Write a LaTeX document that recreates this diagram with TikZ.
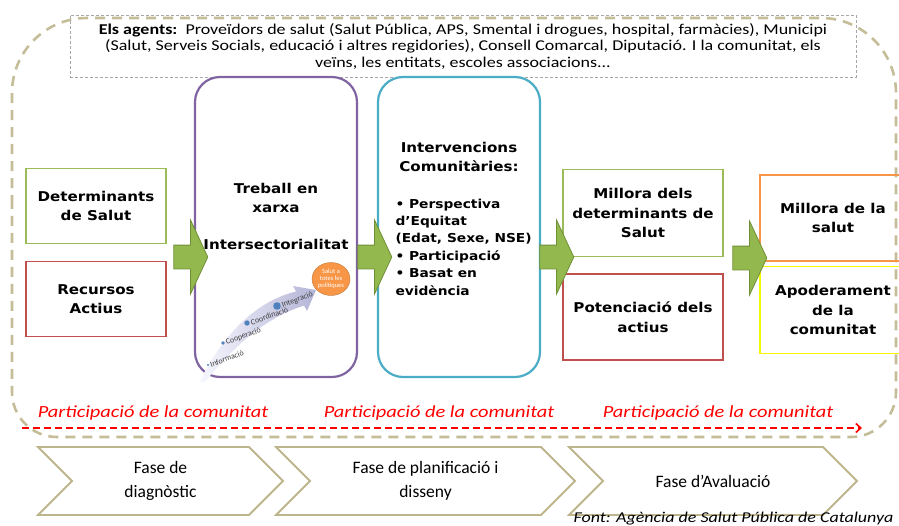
\documentclass[tikz,border=0pt]{standalone}
\usepackage{fontspec}
\setmainfont{Carlito}
\newfontfamily\verdfont{DejaVu Sans}[FakeStretch=1.12]
\newfontfamily\widefont{Carlito}[FakeStretch=1.2]
\usepackage{xcolor}
\usetikzlibrary{arrows.meta,shapes.arrows,shapes.symbols,shapes.geometric}

\definecolor{detgreen}{HTML}{9BBB59}
\definecolor{arrowgreen}{HTML}{93B94E}
\definecolor{arrowdark}{HTML}{6F8F36}
\definecolor{actred}{HTML}{C0504D}
\definecolor{xarxapurple}{HTML}{8064A2}
\definecolor{intcyan}{HTML}{4BACC6}
\definecolor{salorange}{HTML}{F79646}
\definecolor{apoyellow}{HTML}{F7F700}
\definecolor{framebeige}{HTML}{C4BD97}
\definecolor{phaseline}{HTML}{BDB58C}
\definecolor{dotblue}{HTML}{4F81BD}

\begin{document}
\begin{tikzpicture}[x=1pt,y=-1pt,
        boxtext/.style={font=\verdfont\bfseries\fontsize{13.5}{19.5}\selectfont, align=center},
        partext/.style={font=\widefont\itshape\fontsize{17}{18}\selectfont, text=red}]
        \useasboundingbox (0,0) rectangle (899,525);

        \draw[framebeige, line width=2.6pt, dash pattern=on 10pt off 7pt]
            (12,250) [rounded corners=75]-- (12,18) -- (896,18) -- (896,250)
            [rounded corners=45]-- (896,437) -- (12,437) -- cycle;

        \node[draw=gray!70, densely dashed, line width=0.7pt, minimum width=786, minimum height=62,
              align=center, font=\widefont\fontsize{15}{16.5}\selectfont] (agents) at (463,46)
            {\textbf{Els agents:}\ \ Proveïdors de salut (Salut Pública, APS, Smental i drogues, hospital, farmàcies), Municipi\\
             (Salut, Serveis Socials, educació i altres regidories), Consell Comarcal, Diputació. I la comunitat, els\\
             veïns, les entitats, escoles associacions...};

        \begin{scope}[every node/.style = {boxtext, line width=1.8pt, minimum width=140, minimum height=75}]
            \node[draw=detgreen] (det) at (96,206)  {Determinants\\de Salut};
            \node[draw=actred]   (rec) at (96,299)  {Recursos\\Actius};
        \end{scope}

        \begin{scope}[every node/.style = {line width=2.2pt, rounded corners=25, minimum width=162, minimum height=300}]
            \node[draw=xarxapurple] (xarxa) at (276,227) {};
            \node[draw=intcyan]     (interv) at (459,227) {};
        \end{scope}

        \node[boxtext] (treball) at (276,198) {Treball en\\xarxa};
        \node[boxtext] (intsec) at (276,244) {Intersectorialitat};

        \node[boxtext] (intertitle) at (459,157) {Intervencions\\Comunitàries:};
        \node[boxtext, align=left, anchor=west, font=\verdfont\bfseries\fontsize{12.3}{17.4}\selectfont] (interlist) at (392,247)
            {• Perspectiva\\d’Equitat\\(Edat, Sexe, NSE)\\• Participació\\• Basat en\\evidència};

        % escala de la intersectorialitat
        \shade[left color=blue!3, right color=blue!30!gray!45]
            (200,381) .. controls (225,330) and (260,300) .. (296,291.5) -- (293,286) -- (316,290)
            -- (307,311) -- (304,305.5) .. controls (265,318) and (235,345) .. (204,383) -- cycle;
        \begin{scope}[every node/.style = {circle, fill=dotblue, inner sep=0pt}]
            \node[minimum size=2.2] (d1) at (208,365) {};
            \node[minimum size=3.6] (d2) at (223,343) {};
            \node[minimum size=5.4] (d3) at (247,323) {};
            \node[minimum size=7.6] (d4) at (277,306) {};
        \end{scope}
        \begin{scope}[every node/.style = {font=\fontsize{8}{8}\selectfont, text=black!75, rotate=20, inner sep=1pt}]
            \node[anchor=west] (inf) at (d1.east) {Informació};
            \node[anchor=west] (coo) at (d2.east) {Cooperació};
            \node[anchor=west] (cor) at (d3.east) {Coordinació};
            \node[anchor=west] (int) at (d4.east) {Integració};
        \end{scope}
        \node[ellipse, fill=salorange, draw=salorange!80!black, line width=0.4pt, minimum width=38, minimum height=33,
              inner sep=0pt, align=center, text=white, font=\fontsize{6.5}{6.8}\selectfont] (salut) at (331,279)
            {Salut a\\totes les\\polítiques};

        \begin{scope}[every node/.style = {boxtext, line width=1.8pt, minimum width=160}]
            \node[draw=detgreen, minimum height=87] (millora) at (643,213) {Millora dels\\determinants de\\Salut};
            \node[draw=actred, minimum height=86]   (poten) at (643,317) {Potenciació dels\\actius};
            \node[draw=salorange, minimum width=146, minimum height=86] (msalut) at (833,218) {Millora de la\\salut};
            \node[draw=apoyellow, minimum width=146, minimum height=87] (apod) at (833,310) {Apoderament\\de la\\comunitat};
        \end{scope}

        \begin{scope}[every node/.style = {single arrow, fill=arrowgreen, draw=arrowdark, line width=0.8pt,
                        single arrow head extend=25pt, single arrow tip angle=130, inner xsep=0pt, inner ysep=11.5pt,
                        minimum height=34pt}]
            \node (arrA) at (188,257) {};
            \node (arrB) at (372,257) {};
            \node (arrC) at (554,257) {};
            \node (arrD) at (747,258) {};
        \end{scope}

        \begin{scope}[every node/.style = {partext}]
            \node (partA) at (153,413) {Participació de la comunitat};
            \node (partB) at (439,413) {Participació de la comunitat};
            \node (partC) at (718,413) {Participació de la comunitat};
        \end{scope}
        \coordinate (pstart) at (22,428);
        \coordinate (pend) at (862,428);
        \draw[red, line width=1.6pt, dash pattern=on 7pt off 4pt, -{Straight Barb[length=5pt,width=9pt]}] (pstart) -- (pend);

        \begin{scope}[every node/.style = {signal, signal to=east, signal from=west, signal pointer angle=90,
                        draw=phaseline, line width=1.8pt, fill=white, minimum height=68, inner sep=0pt,
                        align=center, font=\fontsize{17.5}{24}\selectfont}]
            \node[minimum width=245] (diag) at (160.5,481) {Fase de\\diagnòstic};
            \node[minimum width=299] (plan) at (425.5,481) {Fase de planificació i\\disseny};
            \node[minimum width=288] (aval) at (713,481) {Fase d’Avaluació};
        \end{scope}

        \node[anchor=base east, font=\widefont\itshape\fontsize{15}{16}\selectfont] (font) at (897,522)
            {Font: Agència de Salut Pública de Catalunya};
\end{tikzpicture}
\end{document}
